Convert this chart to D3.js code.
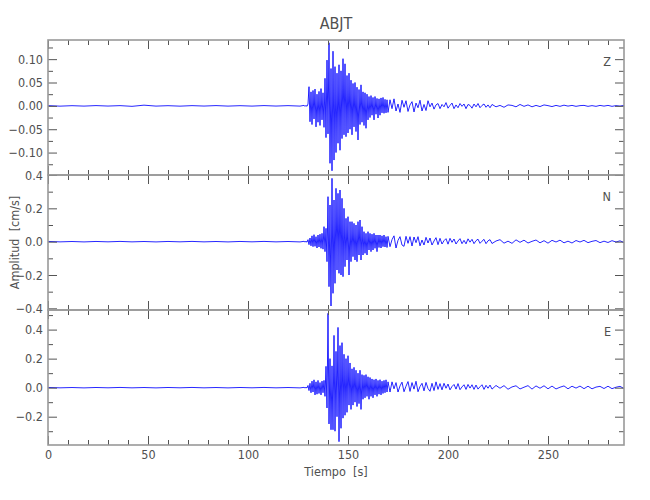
<!DOCTYPE html>
<html><head><meta charset="utf-8">
<script src="https://cdn.jsdelivr.net/npm/d3@7"></script>
<style>
body{margin:0;background:#fff}
text{font-family:"Liberation Sans Narrow","DejaVu Sans Condensed","Arial Narrow",sans-serif;fill:#505050}
</style></head><body>
<svg id="c" width="650" height="500"></svg>
<script>
// ---------- data ----------
const title = "ABJT";
const xLabel = "Tiempo  [s]";
const yLabel = "Amplitud  [cm/s]";
const timeDomain = [0, 288];
const xMajorTicks = [0, 50, 100, 150, 200, 250];
const xMinorStep = 10;
const channels = ["Z", "N", "E"];

// sampling of the peak values (start, step in s)
const preStart = 0,   preStep = 6;
const mainStart = 128, mainStep = 0.5;
const codaStart = 171, codaStep = 1;
const tailStart = 222, tailStep = 2;

// Z component (cm/s)
const zDomain = [-0.148, 0.141];
const zMajor = [-0.10, -0.05, 0.00, 0.05, 0.10];
const zLabels = ["\u22120.10", "\u22120.05", "0.00", "0.05", "0.10"];
const zMinorStep = 0.025;
const zPre = [0.0005,-0.0006,0.0004,-0.0005,0.0006,-0.0004,0.0005,-0.001,0.0015,-0.0005,0.0004,-0.0006,0.0005,-0.0004,0.0006,-0.0005,0.0004,-0.0005,0.0006,-0.0004,0.0005,-0.0005];
const zMain = [0.001,-0.001,0.001,-0.001,0.004,0.041,-0.034,0.03,-0.04,0.033,-0.028,0.036,-0.045,0.025,-0.035,0.031,-0.042,0.037,-0.03,0.028,
  -0.046,0.059,-0.068,0.098,-0.06,0.135,-0.123,0.08,-0.139,0.117,-0.116,0.084,-0.1,0.07,-0.08,0.088,-0.095,0.075,-0.07,0.101,
  -0.062,0.09,-0.066,0.065,-0.058,0.07,-0.05,0.055,-0.062,0.048,-0.045,0.05,-0.055,0.04,-0.073,0.035,-0.04,0.045,-0.035,0.03,
  -0.042,0.028,-0.048,0.025,-0.03,0.02,-0.025,0.022,-0.02,0.018,-0.03,0.02,-0.018,0.016,-0.026,0.015,-0.02,0.017,-0.015,0.018,
  -0.016,0.014,-0.015,0.013,-0.014];
const zCoda = [0.013,-0.006,0.015,-0.011,0.004,-0.014,0.012,-0.003,
  0.011,-0.012,0.002,0.009,-0.013,0.006,-0.004,0.012,-0.011,0.003,-0.01,0.011,-0.002,
  0.006,-0.007,0.002,0.005,-0.006,0.003,-0.002,0.007,-0.005,0.001,0.006,-0.006,0.002,-0.004,0.005,-0.001,0.004,-0.006,0.003,0.001,-0.005,0.004,-0.002,0.005,-0.004,0.001,0.004,-0.003,0.002,-0.004];
const zTail = [0.003,-0.002,0.001,-0.003,0.002,0.001,-0.002,0.003,-0.001,0.002,-0.002,0.001,-0.0015,0.002,0.0005,-0.0015,0.001,-0.001,0.0015,-0.0005,0.001,-0.001,0.0005,0.001,-0.001,0.0005,-0.001,0.001,-0.0005,0.001,-0.001,0.0005,-0.0005,0.001];

// N component (cm/s)
const nDomain = [-0.41, 0.40];
const nMajor = [-0.4, -0.2, 0.0, 0.2, 0.4];
const nLabels = ["\u22120.4", "\u22120.2", "0.0", "0.2", "0.4"];
const nMinorStep = 0.1;
const nPre = [0.0015,-0.0012,0.001,-0.0015,0.0012,-0.001,0.0015,-0.0012,0.001,-0.0015,0.0012,-0.001,0.0015,-0.0012,0.001,-0.0015,0.0012,-0.001,0.0015,-0.0012,0.001,-0.0015];
const nMain = [0.002,-0.002,0.002,-0.003,0.012,-0.018,0.022,-0.025,0.035,-0.03,0.042,-0.028,0.03,-0.038,0.04,-0.032,0.045,-0.04,0.05,-0.045,
  0.09,-0.06,0.08,-0.12,0.27,-0.27,0.22,-0.386,0.38,-0.31,0.25,-0.25,0.32,-0.17,0.29,-0.19,0.31,-0.2,0.26,-0.21,
  0.2,-0.15,0.14,-0.11,0.15,-0.2,0.12,-0.12,0.12,-0.09,0.11,-0.11,0.1,-0.12,0.12,-0.08,0.13,-0.11,0.09,-0.08,
  0.06,-0.07,0.05,-0.08,0.06,-0.05,0.05,-0.06,0.045,-0.05,0.05,-0.04,0.04,-0.06,0.04,-0.035,0.04,-0.038,0.035,-0.03,
  0.04,-0.032,0.03,-0.035,0.032];
const nCoda = [-0.03,0.012,0.035,-0.038,0.008,0.03,-0.02,-0.028,0.032,-0.01,0.03,
  -0.026,0.028,-0.006,0.03,-0.025,0.01,-0.02,0.026,-0.008,0.022,-0.02,0.004,0.024,-0.018,0.02,
  -0.014,0.006,0.018,-0.015,0.02,-0.004,0.016,-0.014,0.004,0.018,-0.012,0.008,-0.013,0.017,-0.003,0.014,-0.012,0.006,0.015,-0.01,0.003,0.014,-0.012,0.005,0.012];
const nTail = [-0.011,0.004,0.012,-0.009,0.003,-0.01,0.011,-0.004,0.009,-0.008,0.002,0.01,-0.007,0.006,-0.009,0.008,-0.002,0.009,-0.007,0.003,-0.008,0.007,-0.002,0.008,-0.006,0.002,0.007,-0.006,0.003,-0.005,0.006,-0.002,0.005,-0.005];

// E component (cm/s)
const eDomain = [-0.395, 0.535];
const eMajor = [-0.2, 0.0, 0.2, 0.4];
const eLabels = ["\u22120.2", "0.0", "0.2", "0.4"];
const eMinorStep = 0.1;
const ePre = [0.0015,-0.0012,0.001,-0.0015,0.0012,-0.001,0.0015,-0.0012,0.001,-0.0015,0.0012,-0.001,0.0015,-0.0012,0.001,-0.0015,0.0012,-0.001,0.0015,-0.0012,0.001,-0.0015];
const eMain = [0.002,-0.002,0.002,-0.002,0.015,-0.02,0.03,-0.035,0.045,-0.03,0.054,-0.05,0.04,-0.045,0.05,-0.04,0.035,-0.05,0.045,-0.035,
  0.05,-0.06,0.147,-0.14,0.512,-0.25,0.2,-0.29,0.15,-0.29,0.36,-0.3,0.25,-0.2,0.415,-0.372,0.29,-0.28,0.31,-0.21,
  0.23,-0.19,0.2,-0.17,0.22,-0.12,0.17,-0.15,0.13,-0.12,0.14,-0.1,0.12,-0.13,0.1,-0.11,0.12,-0.15,0.09,-0.08,
  0.085,-0.07,0.09,-0.06,0.075,-0.08,0.07,-0.06,0.06,-0.07,0.055,-0.05,0.06,-0.06,0.05,-0.045,0.055,-0.05,0.045,-0.04,
  0.05,-0.035,0.054,-0.03,0.04];
const eCoda = [-0.03,0.04,-0.008,0.035,-0.03,0.012,0.038,-0.028,0.01,0.042,-0.026,
  0.035,-0.01,0.044,-0.028,0.008,0.03,-0.022,0.036,-0.006,-0.025,0.03,-0.02,0.04,-0.012,0.028,
  -0.015,0.03,-0.004,0.025,-0.015,0.008,0.022,-0.01,0.028,-0.014,0.005,0.02,-0.012,0.022,-0.003,0.02,-0.012,0.018,-0.01,0.006,0.02,-0.012,0.016,-0.004,0.018];
const eTail = [-0.01,0.015,-0.004,0.014,-0.011,0.005,0.013,-0.009,0.003,0.014,-0.01,0.012,-0.004,0.013,-0.008,0.011,-0.009,0.003,0.012,-0.008,0.01,-0.003,0.011,-0.007,0.01,-0.008,0.004,0.009,-0.006,0.01,-0.007,0.003,0.009,-0.006];

// ---------- drawing ----------
const L = 48, R = 624, T = 40, B = 445;
const panelH = (B - T) / 3;
const svg = d3.select("#c");

const x = d3.scaleLinear().domain(timeDomain).range([L, R]);

function buildSeries(pre, main, coda, tail) {
  const out = [];
  pre.forEach((v, i) => out.push([preStart + i * preStep, v]));
  main.forEach((v, i) => out.push([mainStart + i * mainStep, v]));
  coda.forEach((v, i) => out.push([codaStart + i * codaStep, v]));
  tail.forEach((v, i) => out.push([tailStart + i * tailStep, v]));
  return out;
}

const panels = [
  {name: channels[0], domain: zDomain, major: zMajor, labels: zLabels, minorStep: zMinorStep, data: buildSeries(zPre, zMain, zCoda, zTail)},
  {name: channels[1], domain: nDomain, major: nMajor, labels: nLabels, minorStep: nMinorStep, data: buildSeries(nPre, nMain, nCoda, nTail)},
  {name: channels[2], domain: eDomain, major: eMajor, labels: eLabels, minorStep: eMinorStep, data: buildSeries(ePre, eMain, eCoda, eTail)}
];

const xMinor = d3.range(timeDomain[0], timeDomain[1] + 0.001, xMinorStep).filter(t => !xMajorTicks.includes(t));
const tickColor = "#555";
const fontSize = 12.5;

function styleAxis(g) {
  g.select(".domain").remove();
  g.selectAll(".tick line").attr("stroke", tickColor).attr("stroke-width", 1);
  g.selectAll(".tick text").style("font-size", fontSize + "px").attr("fill", "#505050");
}

panels.forEach((p, i) => {
  const top = T + i * panelH, bot = top + panelH;
  const y = d3.scaleLinear().domain(p.domain).range([bot, top]);
  const g = svg.append("g");

  // trace
  const line = d3.line().x(d => x(d[0])).y(d => y(d[1]));
  g.append("path").datum(p.data).attr("d", line)
    .attr("fill", "none").attr("stroke", "#0000ff").attr("stroke-width", 0.85);

  // y minor ticks
  const lo = Math.ceil(p.domain[0] / p.minorStep - 1e-6), hi = Math.floor(p.domain[1] / p.minorStep + 1e-6);
  const yMinor = d3.range(lo, hi + 1).map(k => +(k * p.minorStep).toFixed(4))
    .filter(v => !p.major.some(m => Math.abs(m - v) < 1e-6));
  const fmt = d => p.labels[p.major.findIndex(m => Math.abs(m - d) < 1e-9)];

  g.append("g").attr("transform", `translate(${L},0)`)
    .call(d3.axisLeft(y).tickValues(p.major).tickSize(-9).tickPadding(5).tickFormat(fmt)).call(styleAxis);
  g.append("g").attr("transform", `translate(${L},0)`)
    .call(d3.axisLeft(y).tickValues(yMinor).tickSize(-5).tickFormat("")).call(styleAxis);
  g.append("g").attr("transform", `translate(${R},0)`)
    .call(d3.axisRight(y).tickValues(p.major).tickSize(-9).tickFormat("")).call(styleAxis);
  g.append("g").attr("transform", `translate(${R},0)`)
    .call(d3.axisRight(y).tickValues(yMinor).tickSize(-5).tickFormat("")).call(styleAxis);

  // x ticks top and bottom of every panel
  g.append("g").attr("transform", `translate(0,${top})`)
    .call(d3.axisTop(x).tickValues(xMajorTicks).tickSize(-9).tickFormat("")).call(styleAxis);
  g.append("g").attr("transform", `translate(0,${top})`)
    .call(d3.axisTop(x).tickValues(xMinor).tickSize(-5).tickFormat("")).call(styleAxis);
  g.append("g").attr("transform", `translate(0,${bot})`)
    .call(d3.axisBottom(x).tickValues(xMajorTicks).tickSize(-9).tickPadding(5)
      .tickFormat(i === panels.length - 1 ? d3.format("d") : "")).call(styleAxis);
  g.append("g").attr("transform", `translate(0,${bot})`)
    .call(d3.axisBottom(x).tickValues(xMinor).tickSize(-5).tickFormat("")).call(styleAxis);

  // frame
  g.append("rect").attr("x", L).attr("y", top).attr("width", R - L).attr("height", panelH)
    .attr("fill", "none").attr("stroke", "#999").attr("stroke-width", 1.6);

  // channel label
  g.append("text").attr("x", 611).attr("y", top + 26).attr("text-anchor", "end")
    .style("font-size", "12.5px").text(p.name);
});

// titles
svg.append("text").attr("x", (L + R) / 2).attr("y", 29).attr("text-anchor", "middle")
  .style("font-size", "16px").text(title);
svg.append("text").attr("x", (L + R) / 2).attr("y", 476).attr("text-anchor", "middle")
  .style("font-size", "12.5px").attr("xml:space", "preserve").text(xLabel);
svg.append("text").attr("transform", `translate(19,${(T + B) / 2}) rotate(-90)`).attr("text-anchor", "middle")
  .style("font-size", "12.5px").attr("xml:space", "preserve").text(yLabel);
</script>
</body></html>
